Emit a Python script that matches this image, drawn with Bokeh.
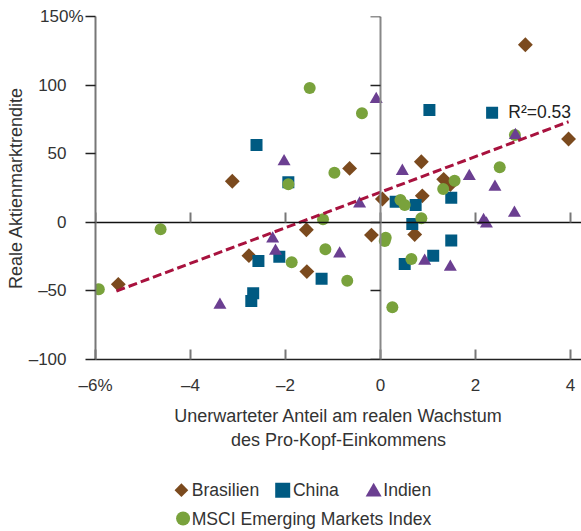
import math
from bokeh.plotting import figure
from bokeh.layouts import column
from bokeh.models import LinearAxis, FixedTicker, Label, Range1d
from bokeh.core.properties import value
from bokeh.embed import file_html
from bokeh.resources import INLINE

# ---------------- data ----------------
br_x = [-5.52, -3.12, -2.77, -1.56, -1.55, -0.65, -0.19, 0.04, 0.86, 0.88, 0.72, 1.33, 1.47, 3.05, 3.96]
br_y = [-45.2, 29.9, -24.3, -5.4, -35.9, 39.3, -9.3, 17.0, 44.1, 19.3, -8.9, 31.3, 27.5, 129.4, 60.7]

cn_x = [-2.61, -1.94, -2.57, -2.68, -2.72, -2.13, -1.24, 1.03, 2.35, 0.32, 0.74, 0.67, 1.49, 1.49, 1.11, 0.51]
cn_y = [56.3, 29.2, -28.2, -51.7, -57.4, -25.1, -41.1, 81.9, 79.9, 15.0, 12.6, -1.2, 17.9, -13.3, -24.3, -30.4]

in_x = [-3.38, -2.03, -2.27, -2.21, -0.86, -0.44, -0.09, 0.46, 0.93, 1.47, 1.87, 2.41, 2.17, 2.23, 2.82, 2.84]
in_y = [-60.3, 44.4, -12.0, -21.0, -22.9, 13.5, 89.6, 37.3, -28.2, -32.6, 33.5, 25.7, 1.4, -1.1, 6.7, 63.4]

ms_x = [-5.93, -4.63, -1.49, -1.94, -1.21, -1.87, -1.16, -0.70, -0.97, -0.39, 0.11, 0.09, 0.25, 0.42, 0.51,
        0.86, 0.65, 1.32, 1.56, 2.51, 2.83]
ms_y = [-48.8, -5.1, 97.9, 27.7, 2.2, -29.2, -19.7, -42.6, 36.2, 79.4, -11.2, -13.6, -62.0, 16.3, 12.6,
        2.9, -26.7, 24.3, 30.3, 40.1, 63.6]

trend_x = [-5.56, 3.96]
trend_y = [-50.1, 73.3]
r2_text = "R²=0.53"
r2_pos = (2.69, 80.6)

x_ticks = [-6, -4, -2, 0, 2, 4]
x_labels = {-6: "–6%", -4: "–4", -2: "–2"}
y_ticks = [-100, -50, 0, 50, 100, 150]
EMSP = "\u2003"
y_labels = {-100: "–100" + EMSP, -50: "–50" + EMSP, 0: "0" + EMSP,
            50: "50" + EMSP, 100: "100" + EMSP, 150: "150%"}

names = ["Brasilien", "China", "Indien", "MSCI Emerging Markets Index"]
x_title = "Unerwarteter Anteil am realen Wachstum\ndes Pro-Kopf-Einkommens"
y_title = "Reale Aktienmarktrendite"

# ---------------- style ----------------
FONT = "Liberation Sans"
TXT = "#333333"
C_BR = "#7B4A1E"
C_CN = "#005A82"
C_IN = "#6B3F91"
C_MS = "#79A23C"
C_TR = "#A8123E"

p = figure(width=581, height=470, output_backend="svg", toolbar_location=None,
           x_range=Range1d(-6, 4.232), y_range=Range1d(-100, 150),
           min_border_left=95, min_border_right=0, min_border_top=16, min_border_bottom=111)
p.grid.visible = False
p.outline_line_color = None

xa = p.xaxis[0]
xa.ticker = FixedTicker(ticks=x_ticks)
xa.major_label_overrides = x_labels
xa.axis_line_color = "#222222"
xa.axis_line_width = 1.5
xa.major_tick_in = 10
xa.major_tick_out = 0
xa.major_tick_line_color = "#777777"
xa.major_tick_line_width = 2
xa.minor_tick_line_color = None
xa.major_label_text_font = FONT
xa.major_label_text_font_size = "17px"
xa.major_label_text_color = TXT
xa.major_label_standoff = 16
xa.axis_label = x_title
xa.axis_label_text_font = FONT
xa.axis_label_text_font_size = "18px"
xa.axis_label_text_font_style = "normal"
xa.axis_label_text_color = TXT
xa.axis_label_standoff = 8

ya = p.yaxis[0]
ya.ticker = FixedTicker(ticks=y_ticks)
ya.major_label_overrides = y_labels
ya.axis_line_color = "#777777"
ya.axis_line_width = 2
ya.major_tick_out = 10
ya.major_tick_in = 0
ya.major_tick_line_color = "#222222"
ya.major_tick_line_width = 1.5
ya.minor_tick_line_color = None
ya.major_label_text_font = FONT
ya.major_label_text_font_size = "17px"
ya.major_label_text_color = TXT
ya.major_label_standoff = 2
ya.axis_label = y_title
ya.axis_label_text_font = FONT
ya.axis_label_text_font_size = "18px"
ya.axis_label_text_font_style = "normal"
ya.axis_label_text_color = TXT
ya.axis_label_standoff = 0

# zero lines as fixed-location axes (no labels)
zx = LinearAxis(fixed_location=0, ticker=FixedTicker(ticks=x_ticks),
                major_tick_in=10, major_tick_out=0, major_tick_line_color="#777777",
                major_tick_line_width=2, axis_line_color="#111111", axis_line_width=1.5,
                minor_tick_line_color=None,
                major_label_overrides={t: "" for t in x_ticks}, major_label_standoff=0)
p.add_layout(zx, "below")
zy = LinearAxis(fixed_location=0, ticker=FixedTicker(ticks=y_ticks),
                major_tick_in=0, major_tick_out=10, major_tick_line_color="#222222",
                major_tick_line_width=1.5, axis_line_color="#888888", axis_line_width=2,
                minor_tick_line_color=None,
                major_label_overrides={t: "" for t in y_ticks}, major_label_standoff=0)
p.add_layout(zy, "left")

# ---------------- marks ----------------
p.scatter(br_x, br_y, marker="square", size=10.5, angle=math.pi / 4,
          fill_color=C_BR, line_color=None)
p.scatter(cn_x, cn_y, marker="square", size=12, fill_color=C_CN, line_color=None)
p.scatter(ms_x, ms_y, marker="circle", size=12, fill_color=C_MS, line_color=None)
p.scatter(in_x, in_y, marker="triangle", size=13, fill_color=C_IN, line_color=None)
p.line(trend_x, trend_y, line_color=C_TR, line_width=3, line_dash="9 4")

p.add_layout(Label(x=r2_pos[0], y=r2_pos[1], text=r2_text, text_font=FONT,
                   text_font_size="17.5px", text_color="#222222",
                   text_baseline="middle", text_align="left"))

# ---------------- legend (separate strip below the chart) ----------------
leg = figure(width=581, height=61, output_backend="svg", toolbar_location=None,
             x_range=Range1d(0, 581), y_range=Range1d(61, 0),
             x_axis_type=None, y_axis_type=None, min_border=0)
leg.grid.visible = False
leg.outline_line_color = None

leg.scatter([102.7], [19.7], marker="square", size=9.7, angle=math.pi / 4,
            fill_color=C_BR, line_color=None)
leg.scatter([223.8], [19.7], marker="square", size=15, fill_color=C_CN, line_color=None)
leg.scatter([332.5], [21.4], marker="triangle", size=16, fill_color=C_IN, line_color=None)
leg.scatter([104.7], [48.0], marker="circle", size=14, fill_color=C_MS, line_color=None)
leg.text(x=[115, 236, 344, 115], y=[19.9, 19.9, 19.9, 48.4], text=names,
         text_font=value(FONT), text_font_size=value("17.6px"), text_color=TXT,
         text_baseline="middle", text_align="left")

layout = column(p, leg, spacing=0)
open("out.html", "w").write(file_html(layout, INLINE))
